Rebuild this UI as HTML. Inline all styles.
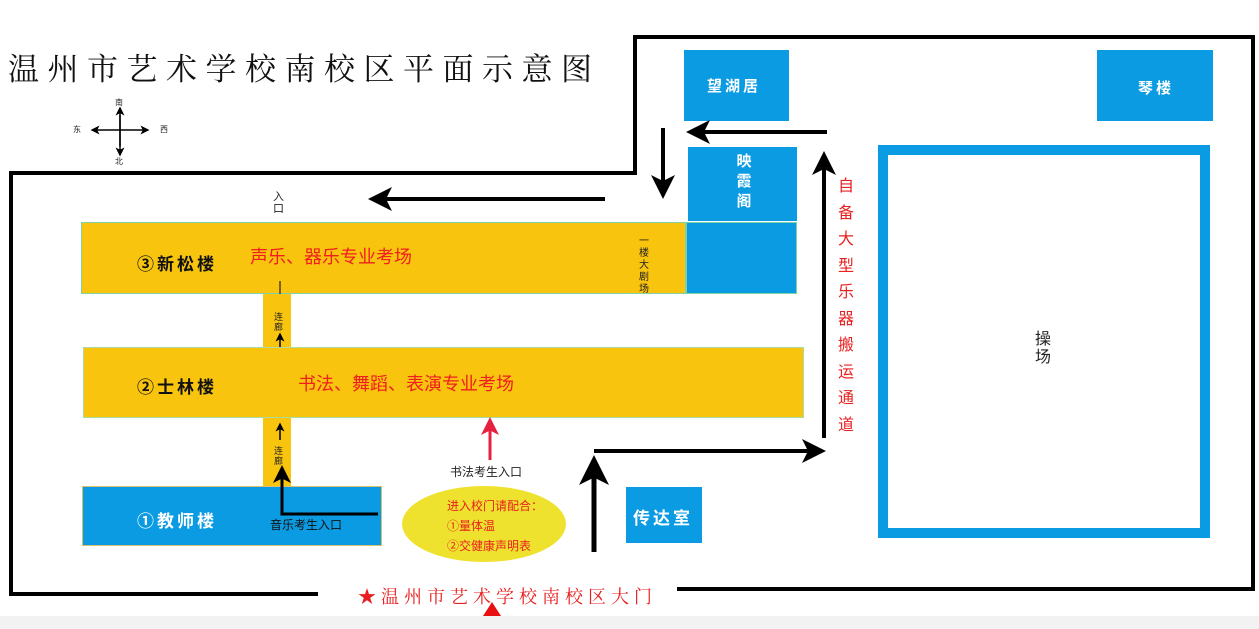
<!DOCTYPE html>
<html><head><meta charset="utf-8"><style>
body{margin:0;width:1259px;height:629px;background:#fff;position:relative;overflow:hidden;font-family:"Liberation Sans","Noto Sans CJK SC",sans-serif}
.a{position:absolute}
.blue{background:#0a9be3}
.yel{background:#f8c40e}
.t{position:absolute;white-space:nowrap}
</style></head><body>
<div class="a" style="left:0;top:616px;width:1259px;height:13px;background:#f2f2f2"></div>
<div class="t" style="left:8px;top:44px;font-size:31px;letter-spacing:8.5px;font-family:'Noto Serif CJK SC',serif;color:#111">温州市艺术学校南校区平面示意图</div>
<!-- buildings -->
<div class="a yel" style="left:81px;top:222px;width:605px;height:72px;border:1px solid #7fd2a8;box-sizing:border-box"></div>
<div class="a blue" style="left:686px;top:222px;width:111px;height:72px;border:1px solid #7fd2a8;box-sizing:border-box"></div>
<div class="a blue" style="left:688px;top:147px;width:109px;height:74px"></div>
<div class="a blue" style="left:684px;top:50px;width:105px;height:71px"></div>
<div class="a blue" style="left:1097px;top:50px;width:116px;height:71px"></div>
<div class="a" style="left:878px;top:145px;width:332px;height:393px;border:10px solid #0a9be3;box-sizing:border-box"></div>
<div class="a yel" style="left:263px;top:294px;width:28px;height:53px"></div>
<div class="a yel" style="left:263px;top:418px;width:28px;height:68px"></div>
<div class="a yel" style="left:83px;top:347px;width:721px;height:71px;border:1px solid #a8dca0;box-sizing:border-box"></div>
<div class="a blue" style="left:82px;top:486px;width:300px;height:60px;border:1px solid #d8c070;box-sizing:border-box"></div>
<div class="a blue" style="left:626px;top:487px;width:76px;height:56px"></div>
<div class="a" style="left:402px;top:486px;width:164px;height:76px;border-radius:50%;background:#efe22e"></div>
<!-- labels -->
<div class="t" style="left:137px;top:250px;font-size:17px;font-weight:bold;letter-spacing:3px;color:#111">③新松楼</div>
<div class="t" style="left:250px;top:243px;font-size:18px;color:#f01e1e">声乐、器乐专业考场</div>
<div class="t" style="left:137px;top:373px;font-size:17px;font-weight:bold;letter-spacing:3px;color:#111">②士林楼</div>
<div class="t" style="left:298px;top:370px;font-size:18px;color:#f01e1e">书法、舞蹈、表演专业考场</div>
<div class="t" style="left:137px;top:507px;font-size:17px;font-weight:bold;letter-spacing:3px;color:#fff">①教师楼</div>
<div class="t" style="left:270px;top:516px;font-size:12px;color:#111">音乐考生入口</div>
<div class="t" style="left:450px;top:463px;font-size:12px;color:#222">书法考生入口</div>
<div class="t" style="left:447px;top:496px;font-size:12px;line-height:20px;color:#e82020">进入校门请配合：<br>①量体温<br>②交健康声明表</div>
<div class="t" style="left:633px;top:504px;font-size:17px;font-weight:bold;letter-spacing:3px;color:#fff">传达室</div>
<div class="t" style="left:707px;top:75px;font-size:15px;font-weight:bold;letter-spacing:3px;color:#fff">望湖居</div>
<div class="t" style="left:1138px;top:77px;font-size:15px;font-weight:bold;letter-spacing:3px;color:#fff">琴楼</div>
<div class="t" style="left:734px;top:152px;font-size:15px;line-height:20px;font-weight:bold;color:#fff;width:20px;text-align:center">映<br>霞<br>阁</div>
<div class="t" style="left:639px;top:236px;font-size:10px;line-height:12px;color:#222;width:12px">一<br>楼<br>大<br>剧<br>场</div>
<div class="t" style="left:274px;top:312px;font-size:9px;line-height:10px;color:#222;width:10px">连<br>廊</div>
<div class="t" style="left:274px;top:446px;font-size:9px;line-height:10px;color:#222;width:10px">连<br>廊</div>
<div class="t" style="left:273px;top:191px;font-size:11px;line-height:12px;color:#222;width:12px">入<br>口</div>
<div class="t" style="left:838px;top:174px;font-size:16px;line-height:26.5px;color:#e82020;width:18px">自<br>备<br>大<br>型<br>乐<br>器<br>搬<br>运<br>通<br>道</div>
<div class="t" style="left:1035px;top:331px;font-size:16px;line-height:18px;color:#222;width:18px">操<br>场</div>
<div class="t" style="left:358px;top:583px;font-size:18px;letter-spacing:5px;color:#e82020;font-family:'Noto Serif CJK SC',serif">★温州市艺术学校南校区大门</div>
<div class="t" style="left:73px;top:124px;font-size:8px;color:#222">东</div>
<div class="t" style="left:160px;top:124px;font-size:8px;color:#222">西</div>
<div class="t" style="left:115px;top:97px;font-size:8px;color:#222">南</div>
<div class="t" style="left:115px;top:156px;font-size:8px;color:#222">北</div>
<svg class="a" style="left:0;top:0" width="1259" height="629">
<defs><marker id="m" markerWidth="6" markerHeight="6" refX="5" refY="3" orient="auto" markerUnits="strokeWidth"><path d="M0,0 L6,3 L0,6 L1.5,3z" fill="#000"/></marker>
<marker id="r" markerWidth="6" markerHeight="6" refX="5" refY="3" orient="auto" markerUnits="strokeWidth"><path d="M0,0 L6,3 L0,6 L1.5,3z" fill="#e82040"/></marker></defs>
<g stroke="#000" stroke-width="4" fill="none">
<path d="M318,594 H11 V173 H635 V37 H1253 V589 H677"/>
</g>
<g stroke="#000" fill="none">
<line x1="605" y1="199" x2="372" y2="199" stroke-width="4" marker-end="url(#m)"/>
<line x1="827" y1="132" x2="690" y2="132" stroke-width="4" marker-end="url(#m)"/>
<line x1="663" y1="128" x2="663" y2="195" stroke-width="4" marker-end="url(#m)"/>
<line x1="824" y1="438" x2="824" y2="155" stroke-width="4" marker-end="url(#m)"/>
<path d="M594,451 H822" stroke-width="4" marker-end="url(#m)"/>
<line x1="594" y1="552" x2="594" y2="460" stroke-width="5" marker-end="url(#m)"/>
<path d="M378,514 H282 V468" stroke-width="3" marker-end="url(#m)"/>
<line x1="280" y1="347" x2="280" y2="334" stroke-width="1.5" marker-end="url(#m)"/>
<line x1="280" y1="440" x2="280" y2="424" stroke-width="1.5" marker-end="url(#m)"/>
<line x1="280" y1="294" x2="280" y2="281" stroke-width="1"/>
<line x1="120" y1="146" x2="120" y2="108" stroke-width="1.5" marker-end="url(#m)"/>
<line x1="120" y1="115" x2="120" y2="155" stroke-width="1.5" marker-end="url(#m)"/>
<line x1="120" y1="130" x2="92" y2="130" stroke-width="1.5" marker-end="url(#m)"/>
<line x1="120" y1="130" x2="148" y2="130" stroke-width="1.5" marker-end="url(#m)"/>
</g>
<line x1="490" y1="460" x2="490" y2="420" stroke="#e82040" stroke-width="3" marker-end="url(#r)"/>
<path d="M483,616 L492,602 L501,616z" fill="#e81010"/>
</svg>
</body></html>
